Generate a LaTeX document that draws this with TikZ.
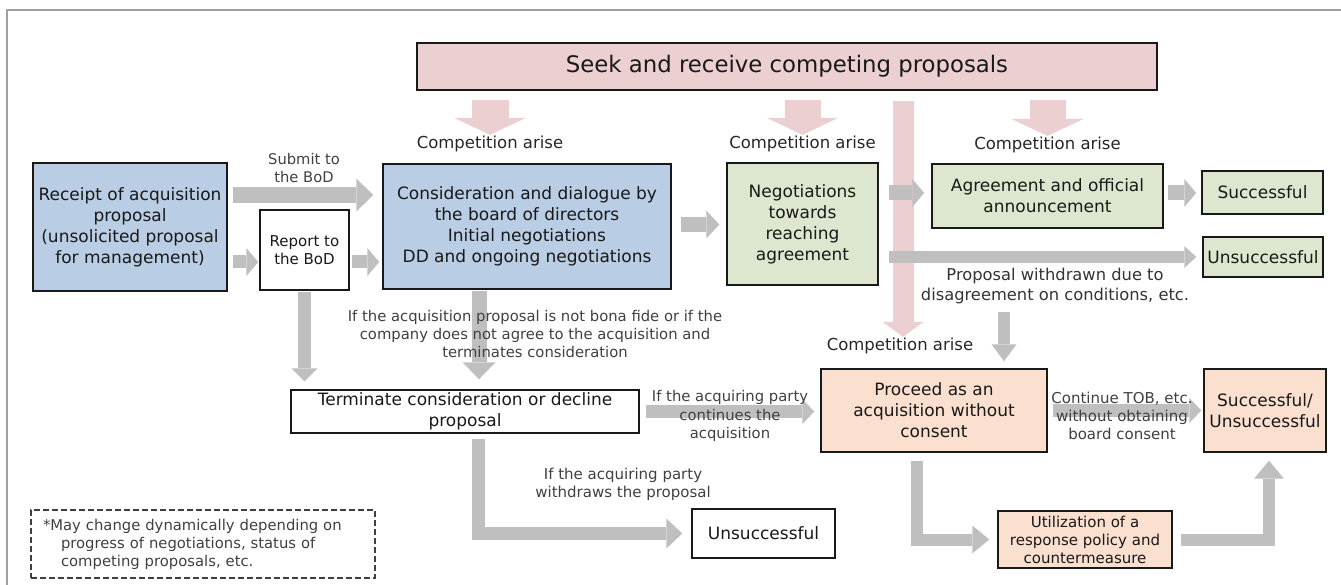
\documentclass[tikz,border=0pt]{standalone}
\usepackage{fontspec}
\setmainfont{DejaVu Sans}
\usetikzlibrary{arrows.meta,positioning}

\definecolor{boxblue}{RGB}{185,205,228}
\definecolor{boxgreen}{RGB}{221,231,207}
\definecolor{boxpeach}{RGB}{251,224,208}
\definecolor{boxpink}{RGB}{236,207,208}
\definecolor{arrowgray}{RGB}{191,191,191}
\definecolor{lblgray}{RGB}{64,64,64}
\definecolor{framegray}{RGB}{160,160,160}

\begin{document}
\begin{tikzpicture}[x=1pt,y=-1pt,
    box/.style={draw=black!90,line width=1.4pt,align=center,inner sep=1pt,
                text=black!90,font=\fontsize{17}{21}\selectfont},
    small box/.style={box,font=\fontsize{15}{18}\selectfont},
    lbl/.style={text=lblgray,align=center,inner sep=0pt,font=\fontsize{15}{18}\selectfont},
    comp/.style={text=black!85,inner sep=1pt,font=\fontsize{16.5}{18}\selectfont},
    garrow/.style n args={3}{draw=arrowgray,line width=#1,
                -{Triangle[width=#2,length=#3,line width=0pt]}},
    parrow/.style n args={3}{draw=boxpink,line width=#1,
                -{Triangle[width=#2,length=#3,line width=0pt]}}]

  \useasboundingbox (0,0) rectangle (1341,585);
  \draw[framegray,line width=1.2pt] (7,600) -- (7,10) -- (1350,10);

  % boxes, upper row
  \node[box,fill=boxpink,minimum width=740pt,minimum height=47pt,
        font=\fontsize{22.8}{26}\selectfont] (seek) at (787,66.5)
        {Seek and receive competing proposals};
  \node[box,fill=boxblue,minimum width=194pt,minimum height=128pt] (recv) at (130,227)
        {Receipt of acquisition\\proposal\\(unsolicited proposal\\for management)};
  \node[small box,fill=white,minimum width=89pt,minimum height=80pt] (report) at (304.5,250)
        {Report to\\the BoD};
  \node[box,fill=boxblue,minimum width=288pt,minimum height=125pt] (consid) at (527,226.5)
        {Consideration and dialogue by\\the board of directors\\Initial negotiations\\DD and ongoing negotiations};
  \node[box,fill=boxgreen,minimum width=151pt,minimum height=122pt] (negot) at (802.5,224)
        {Negotiations\\towards\\reaching\\agreement};
  \node[box,fill=boxgreen,minimum width=231pt,minimum height=64pt] (agree) at (1047.5,196)
        {Agreement and official\\announcement};
  \node[box,fill=boxgreen,minimum width=121pt,minimum height=43pt] (succ) at (1262.5,192.5)
        {Successful};
  \node[box,fill=boxgreen,minimum width=120pt,minimum height=40pt] (unsucc) at (1263,257)
        {Unsuccessful};

  % boxes, lower row
  \node[box,fill=white,minimum width=348pt,minimum height=43pt] (term) at (465,411.5)
        {Terminate consideration or decline\\proposal};
  \node[box,fill=boxpeach,minimum width=226pt,minimum height=83pt] (proceed) at (934,410.5)
        {Proceed as an\\acquisition without\\consent};
  \node[box,fill=boxpeach,minimum width=122pt,minimum height=83pt] (result) at (1265,410.5)
        {Successful/\\Unsuccessful};
  \node[box,fill=white,minimum width=143pt,minimum height=49pt] (fail) at (763.5,533.5)
        {Unsuccessful};
  \node[small box,fill=boxpeach,minimum width=174pt,minimum height=57pt] (util) at (1085,539.5)
        {Utilization of a\\response policy and\\countermeasure};

  % note
  \node[draw=black!75,dash pattern=on 6pt off 3pt,line width=1.2pt,
        minimum width=344pt,minimum height=68pt,text width=320pt,inner xsep=12pt,
        align=left,text=lblgray,font=\fontsize{14.8}{18}\selectfont] (note) at (203,544)
        {*May change dynamically depending on\\\hspace*{18pt}progress of negotiations, status of\\\hspace*{18pt}competing proposals, etc.};

  % competition
  \node[comp] (comp1) at (490,144) {Competition arise};
  \node[comp,above=9pt of negot] (comp2) {Competition arise};
  \node[comp,above=9pt of agree] (comp3) {Competition arise};
  \node[comp] (comp4) at (900,346) {Competition arise};

  \draw[parrow={37pt}{72pt}{17pt},shorten <=9pt] (comp1.north |- seek.south) -- (comp1.north);
  \draw[parrow={36pt}{71pt}{17pt},shorten <=9pt] (comp2.north |- seek.south) -- (comp2.north);
  \draw[parrow={36pt}{72pt}{17pt},shorten <=9pt] (comp3.north |- seek.south) -- (comp3.north);
  \draw[parrow={21pt}{41pt}{15pt},shorten <=10pt]
        ([xshift=3pt]comp4.north |- seek.south) -- ([xshift=3pt]comp4.north);

  \node[lbl,font=\fontsize{16.3}{20}\selectfont,text=black!80] (wdlbl) at (1055,286)
        {Proposal withdrawn due to\\disagreement on conditions, etc.};

  % gray arrows
  \draw[garrow={16pt}{33pt}{17pt},shorten <=5pt,shorten >=9pt]
        ([yshift=32pt]recv.east) -- ([yshift=32pt]recv.east -| consid.west);
  \draw[garrow={13pt}{28pt}{12pt},shorten <=5pt,shorten >=1pt]
        ([yshift=-35pt]recv.east) -- ([yshift=-35pt]recv.east -| report.west);
  \draw[garrow={13pt}{28pt}{12pt},shorten <=2pt,shorten >=3pt]
        ([yshift=-12pt]report.east) -- ([yshift=-12pt]report.east -| consid.west);
  \draw[garrow={15pt}{28pt}{13pt},shorten <=9pt,shorten >=7pt]
        ([yshift=2pt]consid.east) -- ([yshift=2pt]consid.east -| negot.west);
  \draw[garrow={15pt}{28pt}{12pt},shorten <=10pt,shorten >=7pt]
        ([yshift=3pt]agree.west -| negot.east) -- ([yshift=3pt]agree.west);
  \draw[garrow={15pt}{28pt}{12pt},shorten <=4pt,shorten >=5pt]
        ([yshift=3pt]agree.east) -- ([yshift=3pt]agree.east -| succ.west);
  \draw[garrow={12pt}{22pt}{12pt},shorten <=10pt,shorten >=6pt]
        (unsucc.west -| negot.east) -- (unsucc.west);
  \draw[garrow={12pt}{25pt}{17pt},shorten <=8pt,shorten >=7pt]
        ([xshift=70pt]proceed.north |- wdlbl.south) -- ([xshift=70pt]proceed.north);
  \draw[garrow={13pt}{26pt}{13pt},shorten <=1pt,shorten >=8pt]
        (report.south) -- (report.south |- term.north);
  \draw[garrow={15pt}{33pt}{17pt},shorten <=1pt,shorten >=10pt]
        ([xshift=-48pt]consid.south) -- ([xshift=-48pt]consid.south |- term.north);
  \draw[garrow={13pt}{25pt}{12pt},shorten <=6pt,shorten >=6pt]
        (term.east) -- (term.east -| proceed.west);
  \draw[garrow={13pt}{30pt}{16pt},shorten <=5pt,shorten >=9pt]
        ([xshift=13pt]term.south) |- (fail.west);
  \draw[garrow={13pt}{25pt}{12pt},shorten <=5pt,shorten >=2pt]
        (proceed.east) -- (proceed.east -| result.west);
  \draw[garrow={12pt}{28pt}{17pt},shorten <=8pt,shorten >=8pt]
        ([xshift=-17pt]proceed.south) |- (util.west);
  \draw[garrow={12pt}{30pt}{18pt},shorten <=8pt,shorten >=8pt]
        (util.east) -| ([xshift=4pt]result.south);

  % labels on arrows
  \node[lbl,font=\fontsize{14.7}{18}\selectfont] (submitlbl) at (304,168) {Submit to\\the BoD};
  \node[lbl,font=\fontsize{14.8}{18}\selectfont] (bonalbl) at (535,334)
        {If the acquisition proposal is not bona fide or if the\\company does not agree to the acquisition and\\terminates consideration};
  \node[lbl,font=\fontsize{14.8}{18.5}\selectfont] (contlbl) at (730,416)
        {If the acquiring party\\continues the\\acquisition};
  \node[lbl] (wdrlbl) at (623,484) {If the acquiring party\\withdraws the proposal};
  \node[lbl] (toblbl) at (1122,416) {Continue TOB, etc.\\without obtaining\\board consent};

\end{tikzpicture}
\end{document}
